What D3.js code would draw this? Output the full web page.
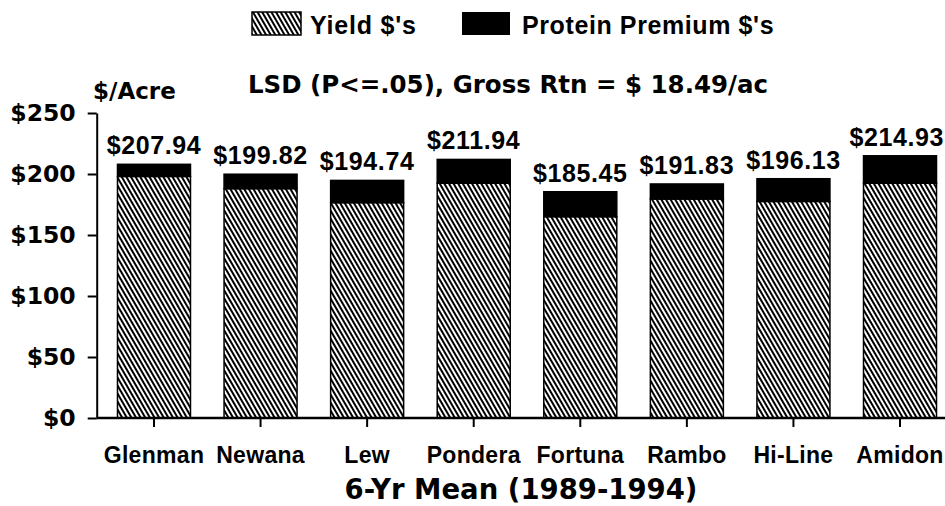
<!DOCTYPE html>
<html>
<head>
<meta charset="utf-8">
<script src="https://cdn.jsdelivr.net/npm/d3@7"></script>
<style>
  html, body { margin: 0; padding: 0; background: #fff; }
  svg { display: block; }
  text { font-weight: bold; fill: #000; }
</style>
</head>
<body>
<svg id="chart" width="945" height="506"></svg>
<script>
// ---- data ----
const categories = ["Glenman", "Newana", "Lew", "Pondera", "Fortuna", "Rambo", "Hi-Line", "Amidon"];
const totalValues = [207.94, 199.82, 194.74, 211.94, 185.45, 191.83, 196.13, 214.93];
const yieldValues = [198, 188, 176.5, 192.5, 165, 179.5, 177.5, 192.5];
const yTicks = [0, 50, 100, 150, 200, 250];
const legendLabels = ["Yield $'s", "Protein Premium $'s"];
const unitLabel = "$/Acre";
const subtitle = "LSD (P<=.05), Gross Rtn = $ 18.49/ac";
const xTitle = "6-Yr Mean (1989-1994)";

const LIB = '"Liberation Sans", Arial, sans-serif';
const DJV = '"DejaVu Sans", sans-serif';

const svg = d3.select("#chart");
const W = 945;

// pattern
const defs = svg.append("defs");
const pat = defs.append("pattern")
  .attr("id", "hatch")
  .attr("patternUnits", "userSpaceOnUse")
  .attr("width", 4).attr("height", 10)
  .attr("patternTransform", "rotate(-30)");
pat.append("rect").attr("width", 4).attr("height", 10).attr("fill", "#fff");
pat.append("rect").attr("width", 2).attr("height", 10).attr("fill", "#000");

// scales
const y = d3.scaleLinear().domain([0, 250]).range([418, 113]);
const x = d3.scaleBand().domain(categories).range([100.7, 953.3])
  .paddingInner(0.315).paddingOuter(0.1575);

const axisX = 96.7;

// bars
const g = svg.append("g");
categories.forEach((c, i) => {
  g.append("rect")
    .attr("x", x(c)).attr("width", x.bandwidth())
    .attr("y", y(yieldValues[i])).attr("height", y(0) - y(yieldValues[i]))
    .attr("fill", "url(#hatch)").attr("stroke", "#000").attr("stroke-width", 1.5);
  g.append("rect")
    .attr("x", x(c)).attr("width", x.bandwidth())
    .attr("y", y(totalValues[i])).attr("height", y(yieldValues[i]) - y(totalValues[i]))
    .attr("fill", "#000").attr("stroke", "#000").attr("stroke-width", 1.5);
  const t = g.append("text")
    .attr("x", x(c) + x.bandwidth() / 2)
    .attr("y", y(totalValues[i]) - 10)
    .attr("text-anchor", "middle")
    .style("font-family", LIB)
    .style("font-size", "25px")
    .style("letter-spacing", "0.6px")
    .text("$" + totalValues[i].toFixed(2));
  const w = t.node().getComputedTextLength();
  const cx = Math.min(x(c) + x.bandwidth() / 2, W - w / 2 - 1);
  t.attr("x", cx);
});

// y axis
const yAxis = svg.append("g")
  .attr("transform", `translate(${axisX},0)`)
  .call(d3.axisLeft(y).tickValues(yTicks).tickSize(9).tickSizeOuter(0).tickPadding(12)
    .tickFormat(d => "$" + d));
yAxis.selectAll("path, line").attr("stroke", "#000").attr("stroke-width", 2);
yAxis.selectAll("text").attr("font-size", null).attr("font-family", null)
  .style("font-family", DJV).style("font-size", "23.5px").style("font-weight", "bold").style("fill", "#000");

// x axis
const xAxis = svg.append("g")
  .attr("transform", `translate(0,${y(0)})`)
  .call(d3.axisBottom(x).tickSize(9).tickSizeOuter(0).tickPadding(20));
xAxis.select(".domain").remove();
xAxis.append("line").attr("x1", axisX).attr("x2", W).attr("y1", 0).attr("y2", 0)
  .attr("stroke", "#000").attr("stroke-width", 2.5);
xAxis.selectAll(".tick line").attr("stroke", "#000").attr("stroke-width", 2);
xAxis.selectAll("text").attr("font-size", null).attr("font-family", null)
  .style("font-family", LIB).style("font-size", "23px").style("letter-spacing", "0.3px")
  .style("font-weight", "bold").style("fill", "#000");

// titles
svg.append("text").attr("x", 93).attr("y", 99)
  .style("font-family", DJV).style("font-size", "23px").text(unitLabel);
svg.append("text").attr("x", 508).attr("y", 93).attr("text-anchor", "middle")
  .style("font-family", DJV).style("font-size", "24.5px").text(subtitle);
svg.append("text").attr("x", 521).attr("y", 499).attr("text-anchor", "middle")
  .style("font-family", DJV).style("font-size", "27.5px").text(xTitle);

// legend
const lg = svg.append("g");
lg.append("rect").attr("x", 252).attr("y", 12).attr("width", 49).attr("height", 23)
  .attr("fill", "url(#hatch)").attr("stroke", "#000").attr("stroke-width", 1.5);
lg.append("text").attr("x", 310).attr("y", 34)
  .style("font-family", LIB).style("font-size", "25px").style("letter-spacing", "0.8px").text(legendLabels[0]);
lg.append("rect").attr("x", 462).attr("y", 12).attr("width", 48).attr("height", 23).attr("fill", "#000");
lg.append("text").attr("x", 522).attr("y", 34)
  .style("font-family", LIB).style("font-size", "25px").style("letter-spacing", "0.6px").text(legendLabels[1]);
</script>
</body>
</html>
